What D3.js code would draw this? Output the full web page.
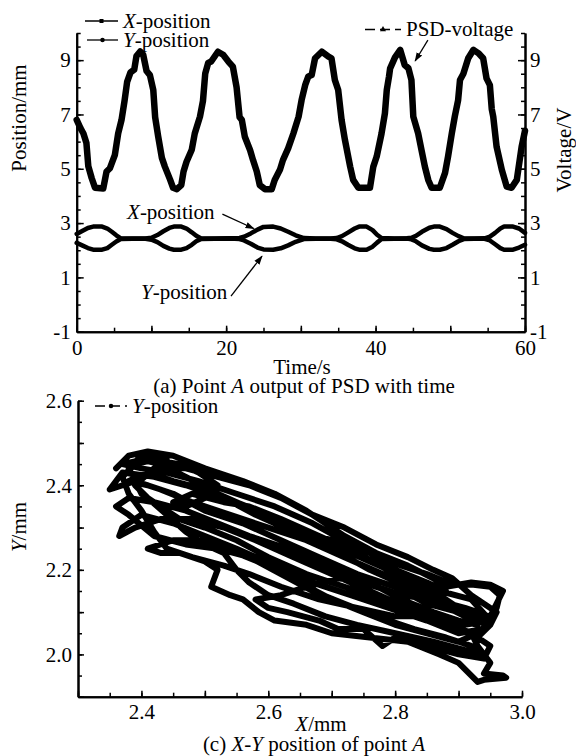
<!DOCTYPE html>
<meta charset="utf-8">
<style>
  body { margin: 0; background: #fff; }
  svg text { font-family: "Liberation Serif", Tinos, "Nimbus Roman", "DejaVu Serif", serif; font-size: 21px; fill: #000; }
  .axis path, .axis line { stroke: #000; }
  .axis path { stroke-width: 2; }
  .axis line { stroke-width: 1.5; }
</style>
<script src="https://d3js.org/d3.v7.min.js"></script>
<body></body>
<script>
// ---- data ----
// (a) PSD voltage vs time [t (s), V]
var psdVoltage = [
  [0,6.8],[0.5,6.5],[0.9,6.3],[1.3,5.95],[1.55,5.1],[2.0,4.66],[2.45,4.3],[3.55,4.27],[4.0,4.9],[4.45,5.02],
  [5.1,5.5],[5.55,6.3],[6.0,6.8],[6.4,7.5],[6.75,8.2],[7.2,8.55],[7.7,8.65],[8.0,9.15],[8.5,9.32],[8.9,9.2],
  [9.35,8.6],[9.8,8.45],[10.25,7.9],[10.5,6.9],[10.9,6.2],[11.4,5.4],[11.8,5.08],[12.5,4.6],[12.9,4.3],[13.4,4.25],
  [14.0,4.4],[14.3,4.9],[14.7,5.26],[15.4,5.7],[15.8,6.3],[16.5,6.92],[16.9,7.5],[17.2,8.5],[17.6,8.9],[18.0,8.95],
  [18.9,9.31],[19.6,9.2],[20.3,8.95],[20.9,8.76],[21.4,8.0],[21.8,6.9],[22.1,6.8],[22.5,6.18],[23.2,5.69],[23.6,5.32],
  [24.1,4.9],[24.5,4.4],[25.2,4.25],[26.1,4.25],[26.5,4.59],[27.2,4.96],[27.6,5.32],[28.3,5.75],[29.0,6.3],[29.7,6.92],
  [30.1,7.53],[30.6,8.1],[31.0,8.4],[31.45,8.45],[31.9,9.07],[32.8,9.31],[33.7,9.13],[34.1,9.07],[34.55,8.27],[35.0,7.9],
  [35.45,6.8],[35.9,6.06],[36.6,5.08],[37.0,4.59],[37.7,4.3],[39.25,4.3],[39.7,5.08],[40.15,5.45],[40.8,6.3],[41.25,7.04],
  [41.5,7.9],[41.8,8.4],[41.95,8.7],[42.6,9.1],[43.3,9.38],[43.9,8.82],[44.4,8.7],[44.8,8.27],[45.05,6.92],[45.7,6.3],
  [46.15,5.69],[46.6,5.08],[47.05,4.59],[47.5,4.3],[48.6,4.3],[49.3,4.85],[49.7,5.45],[50.2,6.3],[50.6,6.92],[51.05,7.53],
  [51.3,8.27],[51.75,8.5],[52.4,9.07],[53.1,9.38],[53.75,9.26],[54.4,9.07],[54.85,8.33],[55.3,8.08],[55.55,7.2],[55.75,6.92],
  [56.2,5.81],[56.9,4.96],[57.55,4.34],[58.2,4.3],[58.9,4.59],[59.55,5.81],[60,6.4]
];
// (a) X-position vs time [t, mm]
var xPosition = [
  [0,2.6],[0.8,2.72],[1.5,2.82],[2.2,2.87],[3.4,2.87],[4.1,2.8],[4.7,2.68],[5.3,2.55],[5.9,2.44],
  [7.5,2.43],[9.2,2.43],[10.0,2.46],[10.8,2.56],[11.6,2.7],[12.4,2.82],[13.0,2.87],[14.0,2.87],[14.7,2.8],[15.4,2.66],[16.0,2.53],[16.6,2.44],
  [18.5,2.43],[20.5,2.44],[21.8,2.45],[22.4,2.5],[23.3,2.62],[24.2,2.76],[25.0,2.86],[26.3,2.87],[27.3,2.8],[28.3,2.68],[29.3,2.55],[30.4,2.45],
  [32.0,2.43],[34.0,2.43],[34.8,2.45],[35.5,2.52],[36.3,2.65],[37.2,2.8],[37.8,2.87],[38.8,2.87],[39.6,2.74],[40.2,2.57],[40.8,2.45],
  [42.5,2.43],[44.2,2.44],[44.8,2.46],[45.4,2.53],[46.2,2.68],[47.2,2.83],[47.8,2.87],[48.6,2.87],[49.5,2.78],[50.3,2.64],[51.1,2.52],[51.8,2.44],
  [53.2,2.43],[54.6,2.44],[55.3,2.5],[56.0,2.64],[56.7,2.8],[57.2,2.87],[58.4,2.87],[59.2,2.8],[60,2.64]
];
// (a) Y-position vs time [t, mm]
var yPosition = [
  [0,2.27],[0.8,2.17],[1.5,2.08],[2.2,2.02],[3.4,2.02],[4.1,2.08],[4.7,2.2],[5.3,2.32],[5.9,2.41],
  [7.5,2.42],[9.2,2.42],[10.0,2.39],[10.8,2.3],[11.6,2.16],[12.4,2.06],[13.0,2.02],[14.0,2.02],[14.7,2.08],[15.4,2.2],[16.0,2.33],[16.6,2.41],
  [18.5,2.42],[20.5,2.43],[21.8,2.41],[22.4,2.36],[23.3,2.24],[24.2,2.1],[25.0,2.03],[26.3,2.02],[27.3,2.07],[28.3,2.18],[29.3,2.31],[30.4,2.41],
  [32.0,2.42],[34.0,2.42],[34.8,2.4],[35.5,2.33],[36.3,2.2],[37.2,2.07],[37.8,2.02],[38.8,2.02],[39.6,2.13],[40.2,2.28],[40.8,2.41],
  [42.5,2.42],[44.2,2.43],[44.8,2.4],[45.4,2.33],[46.2,2.18],[47.2,2.05],[47.8,2.02],[48.6,2.02],[49.5,2.08],[50.3,2.2],[51.1,2.33],[51.8,2.41],
  [53.2,2.42],[54.6,2.42],[55.3,2.36],[56.0,2.22],[56.7,2.08],[57.2,2.02],[58.4,2.02],[59.2,2.1],[60,2.2]
];
// (c) X-Y trajectory [X mm, Y mm]
var xyTrack = [
  [2.36,2.44],[2.38,2.47],[2.41,2.48],[2.45,2.47],[2.50,2.44],[2.56,2.41],[2.61,2.38],[2.66,2.34],[2.72,2.28],[2.77,2.24],
  [2.82,2.21],[2.86,2.18],[2.88,2.16],[2.92,2.17],[2.95,2.165],[2.97,2.15],[2.96,2.12],
  [2.95,2.09],[2.92,2.10],[2.88,2.12],[2.84,2.15],[2.78,2.19],[2.72,2.23],[2.66,2.27],[2.60,2.30],[2.54,2.33],[2.48,2.36],
  [2.43,2.39],[2.39,2.41],[2.35,2.39],
  [2.37,2.43],[2.42,2.42],[2.47,2.40],[2.53,2.37],[2.58,2.33],[2.64,2.29],[2.70,2.25],[2.76,2.20],[2.82,2.16],[2.87,2.12],
  [2.91,2.09],[2.95,2.08],[2.94,2.06],
  [2.90,2.05],[2.85,2.08],[2.79,2.11],[2.73,2.14],[2.67,2.17],[2.61,2.21],[2.55,2.25],[2.50,2.28],[2.45,2.31],[2.40,2.33],
  [2.37,2.30],[2.365,2.28],
  [2.39,2.30],[2.43,2.32],[2.48,2.32],[2.53,2.30],[2.58,2.27],[2.64,2.23],[2.70,2.19],[2.76,2.15],[2.82,2.11],[2.87,2.08],
  [2.92,2.05],[2.93,2.02],[2.95,1.98],[2.94,1.955],[2.97,1.95],[2.975,1.945],[2.94,1.94],[2.93,1.935],
  [2.90,1.98],[2.87,2.00],[2.82,2.03],[2.76,2.04],[2.70,2.05],[2.66,2.07],[2.61,2.08],[2.585,2.10],[2.56,2.13],[2.54,2.14],
  [2.51,2.16],[2.52,2.20],[2.50,2.22],[2.46,2.24],[2.43,2.24],[2.41,2.25],
  [2.45,2.27],[2.50,2.27],[2.55,2.24],[2.60,2.21],[2.65,2.17],[2.70,2.13],[2.75,2.10],[2.80,2.07],[2.85,2.05],[2.90,2.03],
  [2.93,2.05],[2.95,2.08],
  [2.92,2.13],[2.87,2.15],[2.82,2.18],[2.76,2.22],[2.70,2.26],[2.64,2.30],[2.58,2.34],[2.52,2.38],[2.47,2.42],[2.43,2.45],
  [2.40,2.46],[2.37,2.45],
  [2.40,2.44],[2.44,2.43],[2.49,2.41],[2.55,2.38],[2.61,2.35],[2.67,2.31],[2.73,2.26],[2.79,2.22],[2.85,2.19],[2.89,2.165],
  [2.92,2.165],[2.95,2.16],[2.965,2.14],[2.96,2.11],[2.95,2.08],
  [2.91,2.07],[2.86,2.09],[2.80,2.09],[2.74,2.11],[2.68,2.13],[2.62,2.16],[2.57,2.19],[2.53,2.21],[2.48,2.23],[2.44,2.25],
  [2.42,2.29],[2.40,2.34],[2.38,2.38],[2.37,2.42],[2.39,2.45],[2.42,2.46],[2.46,2.45],[2.49,2.43],[2.52,2.40],[2.50,2.37],
  [2.47,2.35],[2.45,2.36],[2.48,2.38],[2.53,2.36],[2.57,2.35],[2.62,2.32],[2.68,2.28],[2.74,2.24],[2.80,2.19],[2.86,2.15],
  [2.90,2.11],[2.93,2.10],
  [2.91,2.11],[2.86,2.13],[2.81,2.14],[2.75,2.17],[2.69,2.21],[2.63,2.25],[2.57,2.28],[2.52,2.31],[2.47,2.34],[2.42,2.36],
  [2.38,2.37],[2.36,2.35],
  [2.38,2.33],[2.42,2.28],[2.47,2.26],[2.52,2.25],[2.57,2.23],[2.62,2.19],[2.67,2.15],[2.72,2.12],[2.77,2.09],[2.83,2.06],
  [2.88,2.04],[2.92,2.02],[2.94,2.0],
  [2.91,2.01],[2.86,2.03],[2.80,2.05],[2.74,2.07],[2.69,2.09],[2.64,2.12],[2.60,2.14],[2.57,2.17],[2.55,2.20],[2.53,2.24],
  [2.50,2.26],[2.47,2.29],[2.44,2.33],[2.41,2.37],[2.39,2.40],
  [2.42,2.44],[2.47,2.44],[2.52,2.42],[2.57,2.40],[2.62,2.37],[2.67,2.33],[2.72,2.30],[2.77,2.26],[2.82,2.23],[2.86,2.20],
  [2.89,2.18],[2.92,2.14],[2.94,2.12],[2.96,2.10],[2.95,2.07],[2.93,2.04],[2.95,2.02],[2.94,1.99],
  [2.90,2.00],[2.85,2.02],[2.80,2.04],[2.78,2.02],[2.75,2.06],[2.71,2.06],[2.68,2.08],[2.63,2.10],[2.60,2.11],[2.58,2.13],
  [2.62,2.14],[2.66,2.16],[2.71,2.18],[2.76,2.17],[2.81,2.13],[2.86,2.10],[2.90,2.08],[2.93,2.07],
  [2.90,2.10],[2.85,2.12],[2.80,2.16],[2.74,2.19],[2.68,2.23],[2.62,2.27],[2.56,2.31],[2.50,2.34],[2.45,2.38],[2.41,2.40],
  [2.38,2.41],
  [2.41,2.43],[2.45,2.41],[2.50,2.39],[2.55,2.36],[2.60,2.33],[2.65,2.29],[2.70,2.27],[2.75,2.23],[2.80,2.20],[2.85,2.17],
  [2.88,2.15],
  [2.84,2.10],[2.78,2.13],[2.72,2.16],[2.66,2.19],[2.60,2.23],[2.55,2.27],[2.50,2.30],[2.46,2.32],[2.43,2.35],[2.40,2.38],
  [2.38,2.44],[2.40,2.47],[2.44,2.46]
];
// tick labels
var timeTicks = [0, 20, 40, 60];
var posTicks = [-1, 1, 3, 5, 7, 9];
var xmmTicks = [2.4, 2.6, 2.8, 3.0];
var ymmTicks = [2.0, 2.2, 2.4, 2.6];

var width = 576, height = 756;

var svg = d3.select("body").append("svg")
    .attr("width", width)
    .attr("height", height);

svg.append("rect").attr("width", width).attr("height", height).attr("fill", "#fff");

var defs = svg.append("defs");
defs.append("marker")
    .attr("id", "arrow")
    .attr("viewBox", "0 0 10 10")
    .attr("refX", 9).attr("refY", 5)
    .attr("markerWidth", 7).attr("markerHeight", 7)
    .attr("orient", "auto")
  .append("path")
    .attr("d", "M0,1.5L10,5L0,8.5z")
    .attr("fill", "#000");

// ---------- top plot (a) ----------
var xT = d3.scaleLinear().domain([0, 60]).range([76.7, 525]);
var yT = d3.scaleLinear().domain([-1, 10]).range([331.7, 33]);

var gTop = svg.append("g");

var fmtPlain = function(d) { return String(d); };

// left axis
gTop.append("g").attr("class", "axis").attr("transform", "translate(" + xT(0) + ",0)")
    .call(d3.axisLeft(yT).tickValues(d3.range(-1, 10.01, 0.5)).tickSize(-4).tickSizeOuter(0).tickFormat(""));
gTop.append("g").attr("class", "axis").attr("transform", "translate(" + xT(0) + ",0)")
    .call(d3.axisLeft(yT).tickValues(posTicks).tickSize(-7).tickSizeOuter(0).tickPadding(6).tickFormat(fmtPlain));
// right axis
gTop.append("g").attr("class", "axis").attr("transform", "translate(" + xT(60) + ",0)")
    .call(d3.axisRight(yT).tickValues(d3.range(-1, 10.01, 0.5)).tickSize(-4).tickSizeOuter(0).tickFormat(""));
gTop.append("g").attr("class", "axis").attr("transform", "translate(" + xT(60) + ",0)")
    .call(d3.axisRight(yT).tickValues(posTicks).tickSize(-7).tickSizeOuter(0).tickPadding(5).tickFormat(fmtPlain));
// bottom axis
gTop.append("g").attr("class", "axis").attr("transform", "translate(0," + yT(-1) + ")")
    .call(d3.axisBottom(xT).tickValues(d3.range(0, 61, 5)).tickSize(-4).tickSizeOuter(0).tickFormat(""));
gTop.append("g").attr("class", "axis").attr("transform", "translate(0," + yT(-1) + ")")
    .call(d3.axisBottom(xT).tickValues(d3.range(0, 61, 10)).tickSize(-6).tickSizeOuter(0).tickPadding(8)
      .tickFormat(function(d) { return timeTicks.indexOf(d) >= 0 ? String(d) : ""; }));

var lineT = d3.line().x(function(d) { return xT(d[0]); }).y(function(d) { return yT(d[1]); });

gTop.append("path").datum(xPosition).attr("d", lineT)
    .attr("fill", "none").attr("stroke", "#000").attr("stroke-width", 4.5)
    .attr("stroke-linejoin", "round").attr("stroke-linecap", "round");
gTop.append("path").datum(yPosition).attr("d", lineT)
    .attr("fill", "none").attr("stroke", "#000").attr("stroke-width", 4.5)
    .attr("stroke-linejoin", "round").attr("stroke-linecap", "round");
gTop.append("path").datum(psdVoltage).attr("d", lineT)
    .attr("fill", "none").attr("stroke", "#000").attr("stroke-width", 6.5)
    .attr("stroke-linejoin", "round").attr("stroke-linecap", "round");

// axis titles
gTop.append("text").attr("transform", "translate(26,118) rotate(-90)")
    .attr("text-anchor", "middle").text("Position/mm");
gTop.append("text").attr("transform", "translate(571,150) rotate(-90)")
    .attr("text-anchor", "middle").text("Voltage/V");
gTop.append("text").attr("x", 302).attr("y", 374).attr("text-anchor", "middle").text("Time/s");
var capA = gTop.append("text").attr("x", 304).attr("y", 393).attr("text-anchor", "middle");
capA.append("tspan").text("(a) Point ");
capA.append("tspan").attr("font-style", "italic").text("A");
capA.append("tspan").text(" output of PSD with time");

// annotations
var annX = gTop.append("text").attr("x", xT(6.74)).attr("y", yT(3.15));
annX.append("tspan").attr("font-style", "italic").text("X");
annX.append("tspan").text("-position");
gTop.append("line").attr("x1", xT(19.5)).attr("y1", yT(3.33)).attr("x2", xT(23.7)).attr("y2", yT(2.8))
    .attr("stroke", "#000").attr("stroke-width", 1.3).attr("marker-end", "url(#arrow)");
var annY = gTop.append("text").attr("x", xT(8.6)).attr("y", yT(0.21));
annY.append("tspan").attr("font-style", "italic").text("Y");
annY.append("tspan").text("-position");
gTop.append("line").attr("x1", xT(20.65)).attr("y1", yT(0.31)).attr("x2", xT(24.8)).attr("y2", yT(1.78))
    .attr("stroke", "#000").attr("stroke-width", 1.3).attr("marker-end", "url(#arrow)");
gTop.append("line").attr("x1", xT(47.0)).attr("y1", yT(9.74)).attr("x2", xT(45.3)).attr("y2", yT(8.97))
    .attr("stroke", "#000").attr("stroke-width", 1.3).attr("marker-end", "url(#arrow)");

// legends
function legendEntry(g, x0, x1, y, dashed, symbol, labelParts) {
  g.append("line").attr("x1", x0).attr("x2", x1).attr("y1", y).attr("y2", y)
      .attr("stroke", "#000").attr("stroke-width", 1.3)
      .attr("stroke-dasharray", dashed ? "10,5" : null);
  g.append("path").attr("d", d3.symbol().type(symbol).size(16)())
      .attr("transform", "translate(" + ((x0 + x1) / 2) + "," + y + ")").attr("fill", "#000");
  var t = g.append("text").attr("x", x1 + 5).attr("y", y).attr("dy", "0.33em");
  labelParts.forEach(function(p) {
    t.append("tspan").attr("font-style", p[1] ? "italic" : null).text(p[0]);
  });
}
legendEntry(gTop, 85, 118, 21, false, d3.symbolSquare, [["X", true], ["-position", false]]);
legendEntry(gTop, 87, 118, 40, false, d3.symbolCircle, [["Y", true], ["-position", false]]);
legendEntry(gTop, 365, 401, 29.5, true, d3.symbolTriangle, [["PSD-voltage", false]]);

// ---------- bottom plot (c) ----------
var xB = d3.scaleLinear().domain([2.3, 3.0]).range([78, 522]);
var yB = d3.scaleLinear().domain([1.9, 2.6]).range([696.7, 400.7]);

var gBot = svg.append("g");
var fmt1 = d3.format(".1f");

gBot.append("g").attr("class", "axis").attr("transform", "translate(" + xB(2.3) + ",0)")
    .call(d3.axisLeft(yB).tickValues(d3.ticks(1.9, 2.6, 14)).tickSize(-4).tickSizeOuter(0).tickFormat(""));
gBot.append("g").attr("class", "axis").attr("transform", "translate(" + xB(2.3) + ",0)")
    .call(d3.axisLeft(yB).tickValues(d3.ticks(1.9, 2.6, 7)).tickSize(-6).tickSizeOuter(0).tickPadding(6)
      .tickFormat(function(d) { return ymmTicks.some(function(v) { return Math.abs(v - d) < 1e-6; }) ? fmt1(d) : ""; }));
gBot.append("g").attr("class", "axis").attr("transform", "translate(0," + yB(1.9) + ")")
    .call(d3.axisBottom(xB).tickValues(d3.ticks(2.3, 3.0, 14)).tickSize(-4).tickSizeOuter(0).tickFormat(""));
gBot.append("g").attr("class", "axis").attr("transform", "translate(0," + yB(1.9) + ")")
    .call(d3.axisBottom(xB).tickValues(d3.ticks(2.3, 3.0, 7)).tickSize(-6).tickSizeOuter(0).tickPadding(7)
      .tickFormat(function(d) { return xmmTicks.some(function(v) { return Math.abs(v - d) < 1e-6; }) ? fmt1(d) : ""; }));

var lineB = d3.line().x(function(d) { return xB(d[0]); }).y(function(d) { return yB(d[1]); });
gBot.append("path").datum(xyTrack).attr("d", lineB)
    .attr("fill", "none").attr("stroke", "#000").attr("stroke-width", 6)
    .attr("stroke-linejoin", "round").attr("stroke-linecap", "round");

var yLab = gBot.append("text").attr("transform", "translate(26,527) rotate(-90)").attr("text-anchor", "middle");
yLab.append("tspan").attr("font-style", "italic").text("Y");
yLab.append("tspan").text("/mm");
var xLab = gBot.append("text").attr("x", 321).attr("y", 731).attr("text-anchor", "middle");
xLab.append("tspan").attr("font-style", "italic").text("X");
xLab.append("tspan").text("/mm");
var capC = gBot.append("text").attr("x", 314).attr("y", 751).attr("text-anchor", "middle");
capC.append("tspan").text("(c) ");
capC.append("tspan").attr("font-style", "italic").text("X");
capC.append("tspan").text("-");
capC.append("tspan").attr("font-style", "italic").text("Y");
capC.append("tspan").text(" position of point ");
capC.append("tspan").attr("font-style", "italic").text("A");

legendEntry(gBot, 95, 127, 406, true, d3.symbolCircle, [["Y", true], ["-position", false]]);
</script>
